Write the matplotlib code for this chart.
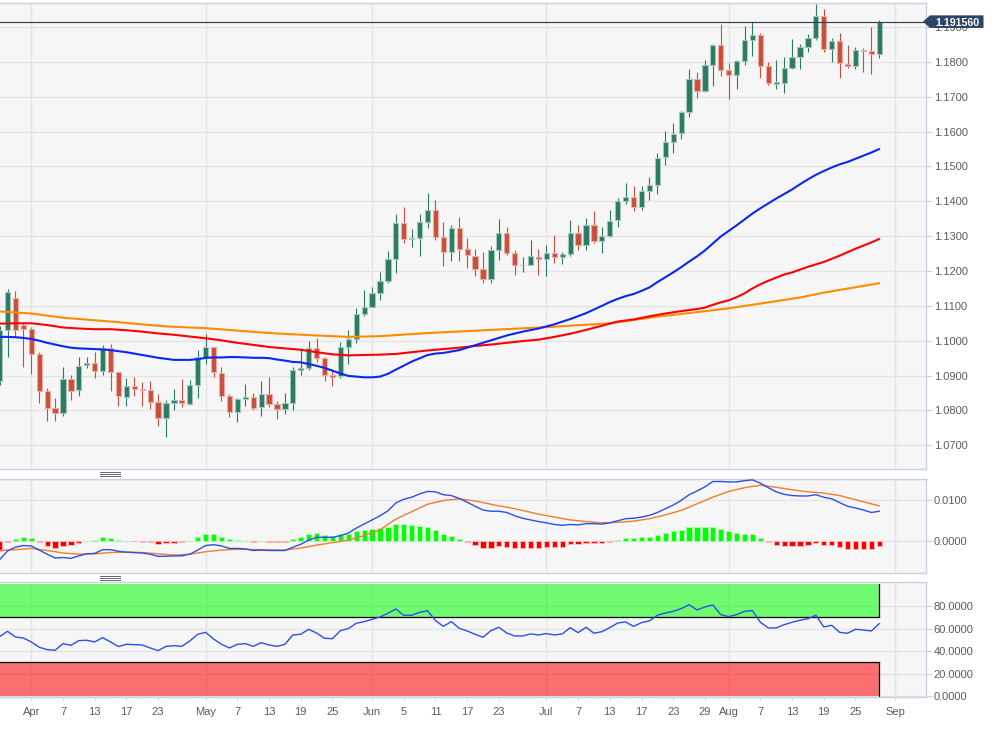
import pandas as pd
import matplotlib
matplotlib.use("Agg")
import matplotlib.pyplot as plt
from matplotlib.lines import Line2D
from matplotlib.patches import Polygon

plt.rcParams["font.family"] = ["Liberation Sans", "DejaVu Sans"]

# ---------- data ----------
dates = pd.bdate_range("2020-03-26", "2020-09-30")

opens = [1.0883,1.1032,1.1122,1.1046,1.1033,1.0963,1.0857,1.0807,1.0793,1.0891,
         1.0858,1.0929,1.0936,1.0914,1.0980,1.0910,1.0839,1.0870,1.0862,1.0858,
         1.0823,1.0777,1.0822,1.0830,1.0819,1.0873,1.0953,1.0982,1.0908,1.0842,
         1.0794,1.0834,1.0839,1.0809,1.0847,1.0817,1.0805,1.0821,1.0917,1.0923,
         1.0979,1.0950,1.0902,1.0898,1.0983,1.1006,1.1078,1.1098,1.1137,1.1171,
         1.1234,1.1339,1.1293,1.1296,1.1342,1.1376,1.1299,1.1256,1.1323,1.1263,
         1.1244,1.1207,1.1177,1.1261,1.1309,1.1252,1.1216,1.1218,1.1241,1.1235,
         1.1252,1.1240,1.1250,1.1309,1.1274,1.1331,1.1286,1.1301,1.1345,1.1401,
         1.1412,1.1385,1.1429,1.1447,1.1527,1.1569,1.1595,1.1657,1.1751,1.1716,
         1.1790,1.1848,1.1778,1.1763,1.1802,1.1863,1.1877,1.1788,1.1738,1.1740,
         1.1784,1.1813,1.1842,1.1870,1.1931,1.1837,1.1859,1.1795,1.1787,1.1833,
         1.1830,1.1823]
highs = [1.1041,1.1148,1.1144,1.1055,1.1039,1.0967,1.0864,1.0835,1.0926,1.0901,
         1.0953,1.0953,1.0968,1.0988,1.0990,1.0910,1.0893,1.0896,1.0881,1.0884,
         1.0847,1.0829,1.0861,1.0890,1.0886,1.0974,1.1019,1.0982,1.0926,1.0846,
         1.0835,1.0876,1.0850,1.0884,1.0896,1.0826,1.0850,1.0926,1.0976,1.0999,
         1.1008,1.0953,1.0917,1.0996,1.1031,1.1094,1.1145,1.1154,1.1197,1.1258,
         1.1363,1.1384,1.1320,1.1363,1.1424,1.1403,1.1341,1.1332,1.1355,1.1295,
         1.1263,1.1254,1.1272,1.1349,1.1326,1.1261,1.1240,1.1289,1.1263,1.1275,
         1.1303,1.1254,1.1345,1.1332,1.1353,1.1372,1.1326,1.1375,1.1409,1.1452,
         1.1443,1.1445,1.1470,1.1539,1.1601,1.1626,1.1658,1.1781,1.1772,1.1807,
         1.1851,1.1910,1.1798,1.1807,1.1904,1.1916,1.1884,1.1801,1.1807,1.1815,
         1.1865,1.1851,1.1881,1.1965,1.1953,1.1870,1.1884,1.1850,1.1843,1.1840,
         1.1901,1.1921]
lows = [1.0874,1.0953,1.1012,1.0926,1.0904,1.0821,1.0771,1.0769,1.0783,1.0831,
        1.0840,1.0921,1.0893,1.0903,1.0855,1.0814,1.0812,1.0840,1.0814,1.0804,
        1.0754,1.0725,1.0800,1.0810,1.0816,1.0835,1.0934,1.0895,1.0826,1.0781,
        1.0766,1.0814,1.0800,1.0783,1.0811,1.0775,1.0789,1.0800,1.0901,1.0917,
        1.0938,1.0883,1.0869,1.0893,1.0933,1.0993,1.1070,1.1097,1.1116,1.1167,
        1.1194,1.1280,1.1268,1.1242,1.1323,1.1288,1.1213,1.1228,1.1228,1.1208,
        1.1185,1.1167,1.1167,1.1233,1.1247,1.1190,1.1196,1.1218,1.1190,1.1185,
        1.1222,1.1219,1.1243,1.1259,1.1261,1.1279,1.1253,1.1299,1.1326,1.1391,
        1.1371,1.1376,1.1403,1.1422,1.1504,1.1539,1.1580,1.1642,1.1697,1.1714,
        1.1731,1.1760,1.1694,1.1721,1.1792,1.1818,1.1755,1.1735,1.1723,1.1712,
        1.1780,1.1780,1.1828,1.1864,1.1829,1.1800,1.1755,1.1783,1.1781,1.1771,
        1.1764,1.1811]
closes = [1.1032,1.1141,1.1032,1.1033,1.0963,1.0857,1.0807,1.0792,1.0891,1.0857,
          1.0928,1.0936,1.0914,1.0980,1.0911,1.0840,1.0870,1.0861,1.0858,1.0823,
          1.0778,1.0821,1.0830,1.0820,1.0873,1.0953,1.0982,1.0909,1.0842,1.0794,
          1.0833,1.0839,1.0808,1.0847,1.0818,1.0805,1.0821,1.0915,1.0923,1.0979,
          1.0951,1.0902,1.0897,1.0982,1.1006,1.1077,1.1098,1.1137,1.1171,1.1234,
          1.1339,1.1293,1.1296,1.1341,1.1376,1.1299,1.1256,1.1324,1.1263,1.1245,
          1.1207,1.1177,1.1260,1.1309,1.1252,1.1218,1.1218,1.1242,1.1235,1.1252,
          1.1240,1.1249,1.1309,1.1274,1.1331,1.1286,1.1301,1.1344,1.1400,1.1412,
          1.1385,1.1429,1.1448,1.1525,1.1569,1.1594,1.1656,1.1751,1.1717,1.1790,
          1.1848,1.1778,1.1763,1.1802,1.1863,1.1877,1.1788,1.1739,1.1741,1.1784,
          1.1813,1.1842,1.1870,1.1931,1.1836,1.1859,1.1796,1.1789,1.1834,1.1831,
          1.1823,1.19156]
last_price = 1.19156

ma_fast_idx = [-4,-3,-2,-1,0,1,2,3,4,5,6,7,8,9,10,11,12,13,14,15,16,17,18,19,20,21,22,23,24,25,
               26,27,28,29,30,31,32,33,34,35,36,37,38,39,40,41,42,43,44,45,46,48,50,51,52,54,56,
               58,60,62,64,66,68,70,72,73,74,75,76,77,78,79,80,81,82,83,84,85,86,87,88,89,90,91,
               92,93,94,95,96,97,98,99,100,101,102,103,104,105,106,107]
ma_fast = [1.1011,1.1011,1.1010,1.1008,1.1005,1.1000,1.0994,1.0989,1.0984,1.0980,
           1.0978,1.0977,1.0976,1.0975,1.0973,1.0970,1.0967,1.0963,1.0959,1.0955,
           1.0951,1.0948,1.0945,1.0945,1.0945,1.0947,1.0951,1.0952,1.0952,1.0953,
           1.0953,1.0952,1.0951,1.0951,1.0950,1.0946,1.0943,1.0939,1.0938,1.0933,
           1.0928,1.0922,1.0914,1.0906,1.0899,1.0897,1.0895,1.0895,1.0897,1.0905,
           1.0917,1.0940,1.0959,1.0963,1.0965,1.0973,1.0987,1.1001,1.1015,1.1026,
           1.1035,1.1047,1.1062,1.1079,1.1100,1.1111,1.1120,1.1128,1.1134,1.1143,
           1.1153,1.1168,1.1182,1.1196,1.1211,1.1227,1.1242,1.1259,1.1279,1.1299,
           1.1315,1.1331,1.1348,1.1365,1.1380,1.1394,1.1408,1.1421,1.1434,1.1449,
           1.1463,1.1476,1.1487,1.1497,1.1506,1.1513,1.1522,1.1531,1.1540,1.1550]
ma_mid_idx = [-4,-2,0,2,4,6,8,10,12,14,16,18,20,22,24,26,28,30,32,34,36,38,40,42,44,46,48,50,52,54,
              56,58,60,62,64,66,68,70,72,73,74,76,78,80,82,84,85,86,87,88,89,90,91,92,93,94,95,96,
              97,98,99,100,102,104,106,107]
ma_mid = [1.1049,1.1050,1.1050,1.1045,1.1038,1.1035,1.1033,1.1033,1.1030,1.1026,
          1.1021,1.1017,1.1012,1.1007,1.1001,1.0994,1.0988,1.0982,1.0978,1.0974,
          1.0967,1.0961,1.0958,1.0959,1.0960,1.0962,1.0967,1.0972,1.0976,1.0980,
          1.0985,1.0989,1.0994,1.0999,1.1003,1.1011,1.1020,1.1031,1.1043,1.1049,
          1.1055,1.1061,1.1070,1.1078,1.1085,1.1091,1.1095,1.1103,1.1110,1.1116,
          1.1125,1.1136,1.1150,1.1162,1.1172,1.1181,1.1190,1.1196,1.1204,1.1212,
          1.1219,1.1226,1.1244,1.1264,1.1282,1.1292]
ma_slow_idx = [-4,0,4,10,17,22,30,36,40,44,50,58,65,73,79,84,88,93,97,100,107]
ma_slow = [1.1084,1.1078,1.1066,1.1055,1.1041,1.1036,1.1022,1.1015,1.1011,1.1013,1.1022,
           1.1031,1.1039,1.1050,1.1069,1.1082,1.1093,1.1110,1.1124,1.1138,1.1165]

macd_line = [-45,-24,-15,-11,-12,-22,-32,-41,-40,-42,-36,-31,-30,-21,-21,-25,-27,-28,-29,-32,
             -37,-37,-36,-36,-32,-22,-11,-9,-12,-18,-18,-19,-23,-22,-23,-23,-23,-15,-8,2,
             9,9,9,13,19,31,41,51,61,73,92,101,106,114,120,119,112,110,103,94,
             84,75,72,72,69,61,55,51,47,44,40,38,40,39,42,42,41,44,49,54,
             55,58,62,69,78,87,98,112,121,131,144,144,143,143,146,148,140,129,119,113,
             110,109,109,112,106,102,93,84,80,75,69,72]
signal_idx = [-4,-2,0,2,4,6,8,10,12,14,16,18,20,22,24,26,29,32,34,36,38,40,42,44,46,48,50,52,54,
              56,59,60,62,64,66,68,70,72,74,76,78,80,82,84,86,88,90,92,94,96,98,100,102,104,106,107]
signal_line = [-23,-21,-18,-23,-29,-32,-31,-28,-27,-28,-31,-34,-32,-26,-22,-20,-21,-22,-17,-10,
               -4,2,13,27,53,71,89,98,102,97,85,82,74,65,58,51,47,44,45,48,54,63,74,90,106,
               120,129,135,130,124,119,116,110,100,90,85]
macd_hist = [-24,-3,5,9,7,-3,-11,-16,-11,-10,-4,1,3,9,7,2,1,-1,-3,-3,
             -7,-6,-5,-3,1,10,17,16,10,4,2,0,-3,0,-2,-3,-2,6,10,17,
             19,15,12,16,18,23,27,29,31,35,41,40,38,36,35,26,16,12,4,-3,
             -10,-17,-16,-12,-15,-17,-18,-18,-17,-15,-15,-14,-8,-8,-4,-4,-4,-2,3,7,
             7,9,10,15,19,23,26,33,33,34,35,30,23,19,18,16,7,-3,-10,-13,
             -13,-11,-9,-4,-9,-10,-15,-19,-19,-19,-19,-13]
macd_scale = 1e-4

rsi = [52.8,57.5,52.5,51.6,48.1,43.4,41.3,40.7,46.6,45.1,49.3,49.6,48.1,51.9,48.1,44.0,
       46.0,45.7,45.4,42.8,40.4,44.2,44.8,44.2,49.0,54.9,56.6,50.7,46.0,42.8,46.0,46.6,
       44.2,47.5,45.4,44.2,46.0,54.3,54.9,59.3,56.0,51.3,51.0,58.1,59.9,64.6,66.1,68.1,
       70.2,73.5,77.3,71.7,71.7,74.3,75.8,67.0,61.9,66.1,60.2,57.8,54.9,52.2,58.1,61.1,
       56.0,53.4,53.4,55.2,54.3,55.5,54.3,55.2,60.8,56.3,61.1,55.8,57.2,60.8,64.9,65.8,
       61.9,65.2,66.7,71.7,73.7,75.2,77.6,81.1,76.4,79.1,80.8,72.3,70.5,72.3,75.2,75.8,
       65.5,60.5,60.5,63.4,65.5,67.3,68.7,71.7,61.4,62.8,56.6,55.8,59.3,58.7,57.8,64.3]

tick_dates = ["2020-04-01","2020-04-07","2020-04-13","2020-04-17","2020-04-23",
              "2020-05-01","2020-05-07","2020-05-13","2020-05-19","2020-05-25",
              "2020-06-01","2020-06-05","2020-06-11","2020-06-17","2020-06-23",
              "2020-07-01","2020-07-07","2020-07-13","2020-07-17","2020-07-23","2020-07-29",
              "2020-08-03","2020-08-07","2020-08-13","2020-08-19","2020-08-25","2020-09-01"]
tick_labels = ["Apr","7","13","17","23","May","7","13","19","25","Jun","5","11","17","23",
               "Jul","7","13","17","23","29","Aug","7","13","19","25","Sep"]
price_ticks = [1.07,1.08,1.09,1.10,1.11,1.12,1.13,1.14,1.15,1.16,1.17,1.18,1.19]
macd_ticks = [0.0,0.01]
rsi_ticks = [0,20,40,60,80]
rsi_upper, rsi_lower, rsi_top = 70, 30, 99

# ---------- layout ----------
W, H = 992, 731
def box(x0, y0, x1, y1):
    return [x0 / W, 1 - y1 / H, (x1 - x0) / W, (y1 - y0) / H]

fig = plt.figure(figsize=(W / 100, H / 100), dpi=100, facecolor="white")
ax1 = fig.add_axes(box(0, 2.7, 926, 469.3))
ax2 = fig.add_axes(box(0, 478.7, 926, 573.3))
ax3 = fig.add_axes(box(0, 582.3, 926, 697.3))

BG, GRID, BORDER, TXT = "#f6f6f6", "#e4e4e4", "#c9d1e3", "#5c5c5c"
first_idx = -4
pos = {d: i + first_idx for i, d in enumerate(dates)}
tick_pos = [pos[pd.Timestamp(d)] for d in tick_dates]
month_pos = [p for p, l in zip(tick_pos, tick_labels) if l.isalpha()]
xs = [i + first_idx for i in range(len(closes))]
xlim = (-3.95, 112.9)

for ax in (ax1, ax2, ax3):
    ax.set_facecolor(BG)
    ax.set_xlim(*xlim)
    ax.set_axisbelow(True)
    ax.yaxis.tick_right()
    ax.yaxis.grid(True, color=GRID, lw=1.0)
    for p in month_pos:
        ax.axvline(p, color=GRID, lw=1.0, zorder=0.5)
    for s in ax.spines.values():
        s.set_color(BORDER)
        s.set_linewidth(1.0)
    ax.spines["left"].set_visible(False)
    ax.tick_params(axis="y", length=4.3, width=0.8, color=BORDER, pad=1.2,
                   labelsize=8.0, labelcolor=TXT)
    ax.tick_params(axis="x", length=0)
    ax.set_xticks([])

# ---------- price ----------
UP, DOWN = "#2d7a64", "#c94f3d"
UP_E, DOWN_E = "#a3c6ba", "#e8aca2"
cols = [UP if c >= o else DOWN for o, c in zip(opens, closes)]
edges = [UP_E if c >= o else DOWN_E for o, c in zip(opens, closes)]
ax1.vlines(xs, lows, highs, colors=cols, lw=0.8, zorder=2)
ax1.bar(xs, [abs(c - o) for o, c in zip(opens, closes)],
        bottom=[min(o, c) for o, c in zip(opens, closes)],
        width=0.66, color=cols, edgecolor=edges, linewidth=0.8, zorder=3)
ax1.plot(ma_slow_idx, ma_slow, color="#ff8c00", lw=1.5, zorder=4, solid_capstyle="round")
ax1.plot(ma_mid_idx, ma_mid, color="#ff0000", lw=1.5, zorder=5, solid_capstyle="round")
ax1.plot(ma_fast_idx, ma_fast, color="#0a28f5", lw=1.5, zorder=6, solid_capstyle="round")
ax1.axhline(last_price, color="#2b3f55", lw=0.85, zorder=7)
ax1.set_ylim(1.0631, 1.1970)
ax1.set_yticks(price_ticks)
ax1.set_yticklabels([f"{t:.4f}" for t in price_ticks])

# ---------- MACD ----------
hist = [v * macd_scale for v in macd_hist]
ax2.bar(xs, hist, width=0.66,
        color=["#00ff00" if v >= 0 else "#ff0000" for v in hist],
        edgecolor=["#a6fda6" if v >= 0 else "#ffb3b3" for v in hist],
        linewidth=0.7, zorder=2)
ax2.plot(signal_idx, [v * macd_scale for v in signal_line], color="#f57c2a", lw=1.0, zorder=3)
ax2.plot(xs, [v * macd_scale for v in macd_line], color="#2b50e8", lw=1.0, zorder=4)
ax2.set_ylim(-0.00782, 0.01508)
ax2.set_yticks(macd_ticks)
ax2.set_yticklabels([f"{t:.4f}" for t in macd_ticks])

# ---------- RSI ----------
band_x = [xlim[0], xs[-1]]
ax3.fill_between(band_x, rsi_upper, rsi_top, color="#00ff00", alpha=0.55, lw=0, zorder=1.5)
ax3.fill_between(band_x, 0, rsi_lower, color="#ff0000", alpha=0.55, lw=0, zorder=1.5)
ax3.plot(band_x, [rsi_upper, rsi_upper], color="black", lw=0.9, zorder=2)
ax3.plot(band_x, [rsi_lower, rsi_lower], color="black", lw=0.9, zorder=2)
ax3.plot([xs[-1], xs[-1]], [rsi_upper, rsi_top], color="black", lw=0.9, zorder=2)
ax3.plot([xs[-1], xs[-1]], [0, rsi_lower], color="black", lw=0.9, zorder=2)
ax3.plot(xs, rsi, color="#2b50e8", lw=1.0, zorder=3)
ax3.set_ylim(-0.9, 100.9)
ax3.set_yticks(rsi_ticks)
ax3.set_yticklabels([f"{t:.4f}" for t in rsi_ticks])
ax3.set_xticks(tick_pos)
ax3.set_xticklabels(tick_labels)
ax3.tick_params(axis="x", length=2.4, width=0.8, color=BORDER, pad=4.5,
                labelsize=8.0, labelcolor=TXT)

# ---------- decorations ----------
y_tag = ax1.transData.transform((0, last_price))[1]
def fx(px): return px / W
def fy(py): return py / H
tag = Polygon([(fx(923), fy(y_tag)), (fx(930), fy(y_tag + 6.3)), (fx(983.5), fy(y_tag + 6.3)),
               (fx(983.5), fy(y_tag - 6.3)), (fx(930), fy(y_tag - 6.3))],
              closed=True, facecolor="#2a4566", edgecolor="none",
              transform=fig.transFigure, zorder=5)
fig.add_artist(tag)
fig.text(fx(957), fy(y_tag), f"{last_price:.6f}", color="white", fontsize=7.7, fontweight="bold",
         ha="center", va="center_baseline", zorder=6)

for py0 in (472, 576):
    for k in (0, 2, 4):
        fig.add_artist(Line2D([fx(100), fx(120)], [1 - (py0 + k) / H] * 2,
                              color="#666666", lw=0.7, zorder=5))

fig.savefig("out.png", dpi=100, facecolor="white")
